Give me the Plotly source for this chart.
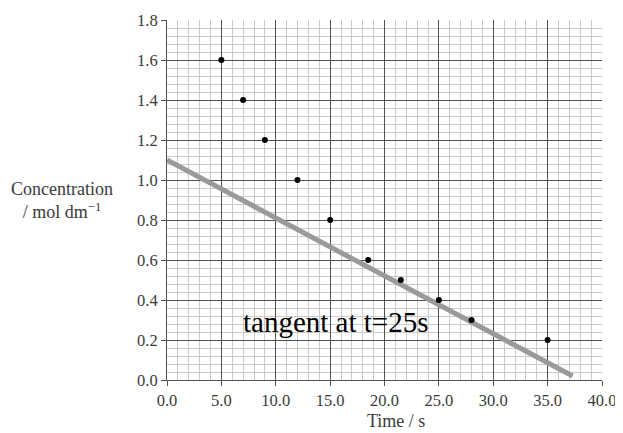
import plotly.graph_objects as go

time_s = [5, 7, 9, 12, 15, 18.5, 21.5, 25, 28, 35]
concentration = [1.6, 1.4, 1.2, 1.0, 0.8, 0.6, 0.5, 0.4, 0.3, 0.2]
tangent_x = [0, 37.3]
tangent_y = [1.1, 0.02]

serif = "Liberation Serif, Times New Roman, serif"
txt_color = "#3a3a3a"

fig = go.Figure()
fig.add_trace(go.Scatter(x=tangent_x, y=tangent_y, mode="lines",
                         line=dict(color="#9a9a9a", width=5), showlegend=False,
                         hoverinfo="skip"))
fig.add_trace(go.Scatter(x=time_s, y=concentration, mode="markers",
                         marker=dict(color="black", size=6), showlegend=False))

axis_common = dict(
    showgrid=True, gridcolor="#505050", gridwidth=1,
    showline=True, linecolor="#505050", linewidth=1,
    ticks="outside", ticklen=5, tickcolor="#505050",
    tickformat=".1f", zeroline=False, automargin=False,
    tickfont=dict(family=serif, size=16.5, color=txt_color),
)

fig.update_xaxes(range=[0, 40], dtick=5, tick0=0,
                 minor=dict(dtick=1, showgrid=True, gridcolor="#cbcbcb", gridwidth=1, ticks=""),
                 **axis_common)
fig.update_yaxes(range=[0, 1.8], dtick=0.2, tick0=0,
                 minor=dict(dtick=0.04, showgrid=True, gridcolor="#cbcbcb", gridwidth=1, ticks=""),
                 **axis_common)

fig.add_annotation(x=15.5, y=0.29, xref="x", yref="y", text="tangent at t=25s",
                   showarrow=False, font=dict(family=serif, size=29, color="black"))
fig.add_annotation(xref="paper", yref="paper", x=-0.2414, y=0.5, xanchor="center", yanchor="middle",
                   text="Concentration<br>/ mol dm<sup>−1</sup>", showarrow=False, align="center",
                   font=dict(family=serif, size=18, color=txt_color))
fig.add_annotation(xref="paper", yref="paper", x=0.526, y=-0.114, xanchor="center", yanchor="middle",
                   text="Time / s", showarrow=False,
                   font=dict(family=serif, size=18, color=txt_color))

fig.update_layout(width=615, height=425, margin=dict(l=159, r=21, t=12, b=53),
                  plot_bgcolor="white", paper_bgcolor="white")

fig.write_html("out.html")
